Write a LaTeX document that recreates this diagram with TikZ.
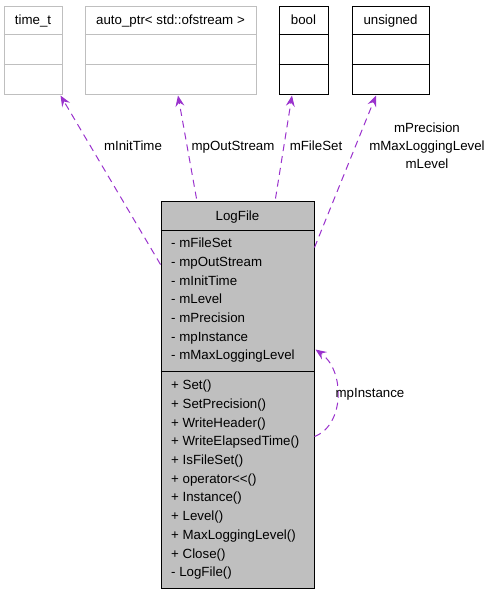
\documentclass[tikz,border=0pt]{standalone}
\usepackage{fontspec}
\setmainfont{Liberation Sans}
\usetikzlibrary{arrows.meta,calc}
\definecolor{edgec}{HTML}{9A32CD}
\definecolor{boxfill}{HTML}{BFBFBF}
\definecolor{lightline}{HTML}{BFBFBF}
\begin{document}
\begin{tikzpicture}[x=1pt,y=-1pt,
  every node/.style={font=\fontsize{13.3}{15}\selectfont, inner sep=0pt},
  graybox/.style={draw=lightline, line width=1pt, fill=white, rectangle, minimum height=88pt},
  blackbox/.style={draw=black, line width=1pt, fill=white, rectangle, minimum height=88pt},
  mainbox/.style={draw=black, line width=1pt, fill=boxfill, rectangle},
  member/.style={anchor=west, text height=9pt, text depth=2.5pt},
  usage/.style={draw=edgec, line width=1pt, dash pattern=on 7pt off 5pt,
    -{Stealth[length=11pt, width=9pt, inset=4pt, fill=edgec, sep=0pt]}},
  lbl/.style={text height=9pt, text depth=2.5pt}
]
\useasboundingbox (0,0) rectangle (493,595);

% type boxes
\node[graybox, minimum width=58pt] (timet) at (33,50) {};
\node[graybox, minimum width=171pt] (autoptr) at (170.5,50) {};
\node[blackbox, minimum width=49pt] (bool) at (303.5,50) {};
\node[blackbox, minimum width=77pt] (unsig) at (390.5,50) {};

\foreach \b/\c in {timet/lightline, autoptr/lightline, bool/black, unsig/black}{
  \draw[\c, line width=1pt] ($(\b.north west)+(0,29)$) -- ($(\b.north east)+(0,29)$);
  \draw[\c, line width=1pt] ($(\b.north west)+(0,59)$) -- ($(\b.north east)+(0,59)$);
}
\node[lbl] (ttimet) at (33,21) {time\_t};
\node[lbl] (tautoptr) at (170.5,21) {auto\_ptr< std::ofstream >};
\node[lbl] (tbool) at (303.5,21) {bool};
\node[lbl] (tunsig) at (390.5,21) {unsigned};

% main class
\node[mainbox, minimum width=153pt, minimum height=387pt] (logfile) at (237.5,394.5) {};
\draw[black, line width=1.3pt] ($(logfile.north west)+(0,30)$) -- ($(logfile.north east)+(0,30)$);
\draw[black, line width=1.3pt] ($(logfile.north west)+(0,171)$) -- ($(logfile.north east)+(0,171)$);
\node[lbl] (tlogfile) at (237.5,217) {LogFile};

\foreach \t [count=\i from 0] in {- mFileSet, - mpOutStream, - mInitTime, - mLevel, - mPrecision, - mpInstance, - mMaxLoggingLevel}{
  \node[member] (a\i) at (171,244.5+18.7*\i) {\t};
}
\foreach \t [count=\i from 0] in {+ Set(), + SetPrecision(), + WriteHeader(), + WriteElapsedTime(), + IsFileSet(), + operator<{}<(), + Instance(), + Level(), + MaxLoggingLevel(), + Close(), - LogFile()}{
  \node[member] (m\i) at (171,386.5+18.7*\i) {\t};
}

% usage edges
\draw[usage] ($(logfile.north west)+(0,64)$) -- ($(timet.south east)+(-2,1)$);
\draw[usage] ($(logfile.north west)+(36,-2)$) -- ($(autoptr.south)+(7.5,1)$);
\draw[usage] ($(logfile.north west)+(115,-2)$) -- ($(bool.south)+(-11.5,1)$);
\draw[usage] ($(logfile.north east)+(0,47)$) -- ($(unsig.south)+(-14.5,1)$);
\draw[usage] ($(logfile.north east)+(0,236)$) .. controls (345,425) and (345,370) .. ($(logfile.north east)+(1,149)$);

% edge labels
\node[lbl] (linit) at (133,147) {mInitTime};
\node[lbl] (lout) at (233,147) {mpOutStream};
\node[lbl] (lfile) at (316,147) {mFileSet};
\node[lbl] (lprec) at (427,129) {mPrecision};
\node[lbl] (lmax) at (427,147) {mMaxLoggingLevel};
\node[lbl] (llev) at (427,165) {mLevel};
\node[lbl] (linst) at (370,394) {mpInstance};
\end{tikzpicture}
\end{document}
